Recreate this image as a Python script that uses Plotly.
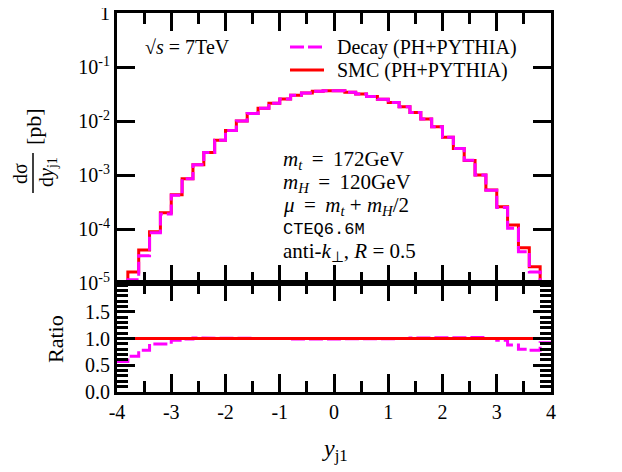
import plotly.graph_objects as go

# ----- Data -----
edges = [-4.0, -3.8, -3.6, -3.4, -3.2, -3.0, -2.8, -2.6, -2.4, -2.2, -2.0,
         -1.8, -1.6, -1.4, -1.2, -1.0, -0.8, -0.6, -0.4, -0.2, 0.0,
         0.2, 0.4, 0.6, 0.8, 1.0, 1.2, 1.4, 1.6, 1.8, 2.0,
         2.2, 2.4, 2.6, 2.8, 3.0, 3.2, 3.4, 3.6, 3.8, 4.0]

# dsigma/dy per bin, bins from -3.8 to 3.8 (outer bins are empty)
smc = [1.6e-5, 4.1e-5, 8.9e-5, 2.0e-4, 4.3e-4, 8.5e-4, 1.54e-3, 2.6e-3, 4.4e-3, 6.7e-3,
       1.0e-2, 1.37e-2, 1.73e-2, 2.13e-2, 2.56e-2, 3.0e-2, 3.3e-2, 3.55e-2, 3.63e-2,
       3.63e-2, 3.4e-2, 3.15e-2, 2.85e-2, 2.52e-2, 2.19e-2, 1.84e-2, 1.43e-2, 1.09e-2,
       7.85e-3, 5.0e-3, 3.1e-3, 1.85e-3, 1.0e-3, 5.3e-4, 2.58e-4, 1.18e-4, 4.5e-5, 2.0e-5]
decay = [1.15e-5, 3.2e-5, 8.5e-5, 1.9e-4, 4.2e-4, 8.5e-4, 1.55e-3, 2.6e-3, 4.4e-3, 6.7e-3,
         1.0e-2, 1.37e-2, 1.73e-2, 2.13e-2, 2.56e-2, 3.0e-2, 3.3e-2, 3.55e-2, 3.63e-2,
         3.63e-2, 3.4e-2, 3.15e-2, 2.85e-2, 2.52e-2, 2.19e-2, 1.84e-2, 1.43e-2, 1.09e-2,
         7.85e-3, 5.0e-3, 3.1e-3, 1.88e-3, 1.0e-3, 5.2e-4, 2.5e-4, 1.03e-4, 3.8e-5, 1.6e-5]

# Decay / SMC per bin, bins from -4.0 to 4.0
ratio_decay = [0.57, 0.67, 0.78, 0.90, 0.90, 0.97, 0.99, 1.01, 1.01, 1.00,
               1.01, 1.01, 1.00, 1.01, 1.00, 1.00, 0.99, 0.99, 1.00, 1.00,
               1.00, 1.00, 0.99, 0.99, 1.00, 1.00, 1.00, 1.01, 1.01, 1.01,
               1.02, 1.01, 1.02, 1.02, 1.00, 0.97, 0.88, 0.80, 0.78, 0.92]
ratio_smc = [1.0] * 40

ytick_vals = [1e-5, 1e-4, 1e-3, 1e-2, 1e-1, 1]
ytick_text = ["10<sup>-5</sup>", "10<sup>-4</sup>", "10<sup>-3</sup>",
              "10<sup>-2</sup>", "10<sup>-1</sup>", "1"]
rtick_vals = [0.0, 0.5, 1.0, 1.5]
rtick_text = ["0.0", "0.5", "1.0", "1.5"]
xtick_vals = [-4, -3, -2, -1, 0, 1, 2, 3, 4]
xtick_text = ["-4", "-3", "-2", "-1", "0", "1", "2", "3", "4"]

MAG = "#ff00ff"
RED = "#ff0000"
FONT = "Liberation Serif"
DASH = "14px,4px"

# plot box in reference pixels (the page body adds an 8px offset)
L, R, T, B = 117, 551, 13, 392
SPLIT = 283
OFF = 8


def px_x(p):
    return (p - L) / (R - L)


def px_y(p):
    return (B - p) / (B - T)


def hist_xy(vals, lo, hi, floor):
    xs, ys = [edges[lo]], [floor]
    for i, v in enumerate(vals):
        xs += [edges[lo + i], edges[lo + i + 1]]
        ys += [v, v]
    xs.append(edges[hi])
    ys.append(floor)
    return xs, ys


def step_xy(vals):
    xs, ys = [], []
    for i, v in enumerate(vals):
        xs += [edges[i], edges[i + 1]]
        ys += [v, v]
    return xs, ys


fig = go.Figure()

sx, sy = hist_xy(smc, 1, 39, 1e-7)
dx, dy = hist_xy(decay, 1, 39, 1e-7)
fig.add_trace(go.Scatter(x=sx, y=sy, mode="lines", line=dict(color=RED, width=3),
                         xaxis="x", yaxis="y", showlegend=False))
fig.add_trace(go.Scatter(x=dx, y=dy, mode="lines", line=dict(color=MAG, width=3, dash=DASH),
                         xaxis="x", yaxis="y", showlegend=False))

rx, ry = step_xy(ratio_decay)
fig.add_trace(go.Scatter(x=rx, y=ry, mode="lines", line=dict(color=MAG, width=3, dash=DASH),
                         xaxis="x2", yaxis="y2", showlegend=False))
qx, qy = step_xy(ratio_smc)
fig.add_trace(go.Scatter(x=qx, y=qy, mode="lines", line=dict(color=RED, width=3),
                         xaxis="x2", yaxis="y2", showlegend=False))

split = px_y(SPLIT)
axis_common = dict(showline=True, linewidth=3, linecolor="black", mirror="allticks",
                   ticks="inside", tickwidth=3, tickcolor="black", showgrid=False,
                   zeroline=False, automargin=False, ticklabeloverflow="allow",
                   tickfont=dict(family=FONT, size=20, color="black"))
xminor = dict(dtick=0.5, tick0=-4, ticklen=11, tickwidth=3, ticks="inside", tickcolor="black")

fig.update_layout(
    width=622, height=472,
    margin=dict(l=L - OFF, r=622 - R + OFF, t=T - OFF, b=472 - B + OFF),
    paper_bgcolor="white", plot_bgcolor="white",
    showlegend=False,
    xaxis=dict(axis_common, range=[-4, 4], anchor="y", tickvals=xtick_vals, ticklen=18,
               showticklabels=False, minor=xminor),
    yaxis=dict(axis_common, type="log", range=[-5, 0], domain=[split, 1], anchor="x",
               tickvals=ytick_vals, ticktext=ytick_text, ticklen=18),
    xaxis2=dict(axis_common, range=[-4, 4], anchor="y2", tickvals=xtick_vals,
                ticktext=xtick_text, ticklen=18, minor=xminor),
    yaxis2=dict(axis_common, range=[0, 2.04], domain=[0, split], anchor="x2",
                tickvals=rtick_vals, ticktext=rtick_text, ticklen=18,
                minor=dict(dtick=0.1, tick0=0, ticklen=11, tickwidth=3, ticks="inside",
                           tickcolor="black")),
)


def label(text, x, y, size=20, angle=0, xanchor="center", family=FONT):
    fig.add_annotation(text=text, xref="paper", yref="paper", x=px_x(x), y=px_y(y),
                       xanchor=xanchor, yanchor="middle", textangle=angle, showarrow=False,
                       font=dict(family=family, size=size, color="black"))


# legend drawn by hand
for row_y, color, dash, name in [(47, MAG, DASH, "Decay (PH+PYTHIA)"),
                                 (70, RED, "solid", "SMC (PH+PYTHIA)")]:
    fig.add_shape(type="line", xref="paper", yref="paper",
                  x0=px_x(290), x1=px_x(324), y0=px_y(row_y), y1=px_y(row_y),
                  line=dict(color=color, width=3, dash=dash))
    label(name, 335, row_y, xanchor="left")

label("√<i>s</i> = 7TeV", 143, 47, xanchor="left")

TS = "\u2009"
info = [("<i>m<sub>t</sub></i>" + TS + " = " + TS + "172GeV", FONT, 21),
        ("<i>m<sub>H</sub></i>" + TS + " = " + TS + "120GeV", FONT, 21),
        ("<i>μ</i>" + TS + " = " + TS + "<i>m<sub>t</sub></i> + <i>m<sub>H</sub></i>/2", FONT, 21),
        ("CTEQ6.6M", "Liberation Mono", 17),
        ("anti-<i>k</i><sub>⊥</sub>, <i>R</i> = 0.5", FONT, 21)]
for i, (line, fam, size) in enumerate(info):
    label(line, 281, 160 + 23 * i, size=size, xanchor="left", family=fam)

# axis titles
label("dσ", 20, 174, angle=-90)
fig.add_shape(type="line", xref="paper", yref="paper", x0=px_x(33), x1=px_x(33),
              y0=px_y(153), y1=px_y(193), line=dict(color="black", width=1.5))
label("d<i>y</i><sub>j1</sub>", 47, 172, angle=-90)
label("[pb]", 33, 127, size=22, angle=-90)
label("Ratio", 55, 339, size=22, angle=-90)
label("<i>y</i><sub>j1</sub>", 335, 450, size=24)

fig.write_html("out.html")
